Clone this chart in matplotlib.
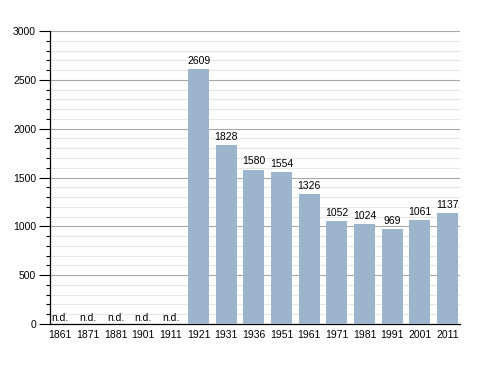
import matplotlib
matplotlib.use("Agg")
import matplotlib.pyplot as plt
import numpy as np

plt.rcParams['font.family'] = ['Liberation Sans', 'DejaVu Sans']

years = ["1861", "1871", "1881", "1901", "1911", "1921", "1931", "1936",
         "1951", "1961", "1971", "1981", "1991", "2001", "2011"]
population = [None, None, None, None, None, 2609, 1828, 1580,
              1554, 1326, 1052, 1024, 969, 1061, 1137]

fig = plt.figure(figsize=(4.88, 3.73), dpi=100)
ax = fig.add_axes([50 / 488, 49 / 373, 410 / 488, 293 / 373])

x = np.arange(len(years))
heights = [v if v is not None else 0 for v in population]
ax.bar(x, heights, width=0.76, color="#9db4cd", zorder=3)

for xi, v in zip(x, population):
    if v is None:
        ax.text(xi, 15, "n.d.", ha="center", va="bottom", fontsize=7.5, zorder=4)
    else:
        ax.text(xi, v + 35, str(v), ha="center", va="bottom", fontsize=7.5, zorder=4)

ax.set_xlim(-0.37, len(years) - 0.55)
ax.set_ylim(0, 3000)
ax.set_yticks(np.arange(0, 3001, 500))
ax.set_yticks(np.arange(0, 3001, 100), minor=True)
ax.set_xticks(x)
ax.set_xticklabels(years)

ax.grid(axis="y", which="major", color="#a8a8a8", linewidth=0.8, zorder=1)
ax.grid(axis="y", which="minor", color="#e6e6e6", linewidth=0.8, zorder=0)

for side in ["top", "right"]:
    ax.spines[side].set_visible(False)
ax.spines["left"].set_linewidth(0.9)
ax.spines["bottom"].set_linewidth(0.9)

ax.tick_params(axis="y", which="major", length=8, width=0.8, labelsize=7.5, pad=2)
ax.tick_params(axis="y", which="minor", length=3, width=0.8)
ax.tick_params(axis="x", length=0, labelsize=7.5, pad=4)

fig.savefig("out.png", dpi=100)
